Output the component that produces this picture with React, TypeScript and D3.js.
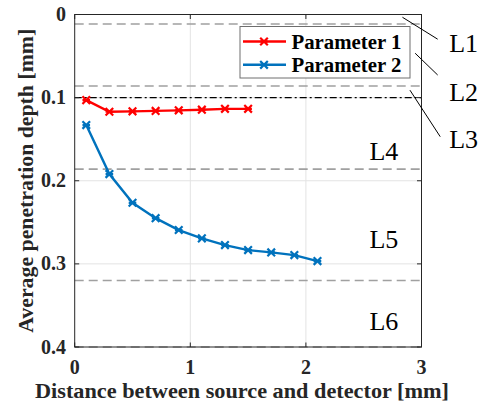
import React from "react";
import * as d3 from "d3";

const xP1 = [0.1, 0.3, 0.5, 0.7, 0.9, 1.1, 1.3, 1.5];
const yP1 = [0.103, 0.117, 0.1165, 0.116, 0.1153, 0.1145, 0.1135, 0.1135];
const xP2 = [0.1, 0.3, 0.5, 0.7, 0.9, 1.1, 1.3, 1.5, 1.7, 1.9, 2.1];
const yP2 = [0.133, 0.192, 0.2265, 0.245, 0.2593, 0.2693, 0.2774, 0.2834, 0.2862, 0.2894, 0.2966];
const seriesNames = ["Parameter 1", "Parameter 2"];
const seriesColors = ["#ff0000", "#0072bd"];
const xTicks = [0, 1, 2, 3];
const yTicks = [0, 0.1, 0.2, 0.3, 0.4];
const yTickLabels = ["0", "0.1", "0.2", "0.3", "0.4"];
const dashedLevels = [0.0115, 0.086, 0.186, 0.32, 0.4];
const dashDotLevel = 0.1;
const layerNames = ["L1", "L2", "L3", "L4", "L5", "L6"];
const layerLabelPos: [number, number][] = [
  [3.24, 0.045],
  [3.24, 0.104],
  [3.24, 0.160],
  [2.55, 0.175],
  [2.55, 0.281],
  [2.55, 0.379],
];
const leaders: [number, number, number, number][] = [
  [2.835, 0.0033, 3.14, 0.0297],
  [2.945, 0.0466, 3.14, 0.0728],
  [2.9, 0.091, 3.162, 0.147],
];

const W = 486;
const H = 403;
const M = { left: 74.7, right: 421.5, top: 14.5, bottom: 347 };
const FONT = "Liberation Serif, serif";

export default function App() {
  const x = d3.scaleLinear().domain([0, 3]).range([M.left, M.right]);
  const y = d3.scaleLinear().domain([0, 0.4]).range([M.top, M.bottom]);
  const line = d3
    .line<[number, number]>()
    .x((d) => x(d[0]))
    .y((d) => y(d[1]));
  const data: [number, number][][] = [
    xP1.map((v, i) => [v, yP1[i]]),
    xP2.map((v, i) => [v, yP2[i]]),
  ];
  const axisColor = "#262626";
  const ms = 3.8;
  const marker = (cx: number, cy: number, c: string, k: string) => (
    <path
      key={k}
      d={`M${cx - ms},${cy - ms}L${cx + ms},${cy + ms}M${cx - ms},${cy + ms}L${cx + ms},${cy - ms}M${cx - ms},${cy}L${cx + ms},${cy}`}
      stroke={c}
      strokeWidth={2.2}
      fill="none"
    />
  );
  const tickLen = 4.5;
  const legX = 240;
  const legY = 26.5;
  const legW = 170;
  const legH = 51.5;

  return (
    <svg
      width={W}
      height={H}
      style={{ position: "absolute", left: 0, top: 0, background: "#fff" }}
    >
      {xTicks.slice(1, -1).map((t) => (
        <line key={"gx" + t} x1={x(t)} x2={x(t)} y1={M.top} y2={M.bottom} stroke="#e3e3e3" strokeWidth={1} />
      ))}
      {yTicks.slice(1, -1).map((t) => (
        <line key={"gy" + t} x1={M.left} x2={M.right} y1={y(t)} y2={y(t)} stroke="#e3e3e3" strokeWidth={1} />
      ))}
      {dashedLevels.map((v, i) => (
        <line
          key={"dl" + i}
          x1={M.left}
          x2={M.right}
          y1={y(v)}
          y2={y(v)}
          stroke="#a0a0a0"
          strokeWidth={1.6}
          strokeDasharray="9,5"
        />
      ))}
      <line
        x1={M.left}
        x2={M.right}
        y1={y(dashDotLevel)}
        y2={y(dashDotLevel)}
        stroke="#000"
        strokeWidth={1.1}
        strokeDasharray="7,3,2,3"
      />
      <rect x={M.left} y={M.top} width={M.right - M.left} height={M.bottom - M.top} fill="none" stroke={axisColor} strokeWidth={1} />
      {xTicks.map((t) => (
        <g key={"xt" + t}>
          <line x1={x(t)} x2={x(t)} y1={M.bottom} y2={M.bottom - tickLen} stroke={axisColor} />
          <line x1={x(t)} x2={x(t)} y1={M.top} y2={M.top + tickLen} stroke={axisColor} />
          <text x={x(t)} y={373.5} textAnchor="middle" fontFamily={FONT} fontSize={20} fontWeight="bold" fill={axisColor}>
            {t}
          </text>
        </g>
      ))}
      {yTicks.map((t, i) => (
        <g key={"yt" + t}>
          <line x1={M.left} x2={M.left + tickLen} y1={y(t)} y2={y(t)} stroke={axisColor} />
          <line x1={M.right} x2={M.right - tickLen} y1={y(t)} y2={y(t)} stroke={axisColor} />
          <text x={66} y={y(t) + 6.5} textAnchor="end" fontFamily={FONT} fontSize={20} fontWeight="bold" fill={axisColor}>
            {yTickLabels[i]}
          </text>
        </g>
      ))}
      {data.map((d, si) => (
        <g key={"s" + si}>
          <path d={line(d) || ""} fill="none" stroke={seriesColors[si]} strokeWidth={2.4} />
          {d.map((p, pi) => marker(x(p[0]), y(p[1]), seriesColors[si], `m${si}-${pi}`))}
        </g>
      ))}
      {layerNames.map((n, i) => (
        <text key={n} x={x(layerLabelPos[i][0])} y={y(layerLabelPos[i][1])} fontFamily={FONT} fontSize={26} fill="#000">
          {n}
        </text>
      ))}
      {leaders.map((l, i) => (
        <line key={"ld" + i} x1={x(l[0])} y1={y(l[1])} x2={x(l[2])} y2={y(l[3])} stroke="#000" strokeWidth={1} />
      ))}
      <rect x={legX} y={legY} width={legW} height={legH} fill="#fff" stroke="#6e6e6e" strokeWidth={1} />
      {seriesNames.map((n, i) => {
        const cy = legY + 15 + i * 23.3;
        return (
          <g key={"leg" + i}>
            <line x1={legX + 3} x2={legX + 46} y1={cy} y2={cy} stroke={seriesColors[i]} strokeWidth={2.4} />
            {marker(legX + 24, cy, seriesColors[i], "lm" + i)}
            <text x={legX + 51.5} y={cy + 7} fontFamily={FONT} fontSize={20.5} fontWeight="bold" fill="#000" textLength={110} lengthAdjust="spacingAndGlyphs">
              {n}
            </text>
          </g>
        );
      })}
      <text
        x={242}
        y={398}
        textAnchor="middle"
        fontFamily={FONT}
        fontSize={21}
        fontWeight="bold"
        fill={axisColor}
        textLength={414}
        lengthAdjust="spacingAndGlyphs"
      >
        Distance between source and detector [mm]
      </text>
      <text
        transform={`translate(33, ${(M.top + M.bottom) / 2}) rotate(-90)`}
        textAnchor="middle"
        fontFamily={FONT}
        fontSize={21}
        fontWeight="bold"
        fill={axisColor}
        textLength={304}
        lengthAdjust="spacingAndGlyphs"
      >
        Average penetration depth [mm]
      </text>
    </svg>
  );
}
